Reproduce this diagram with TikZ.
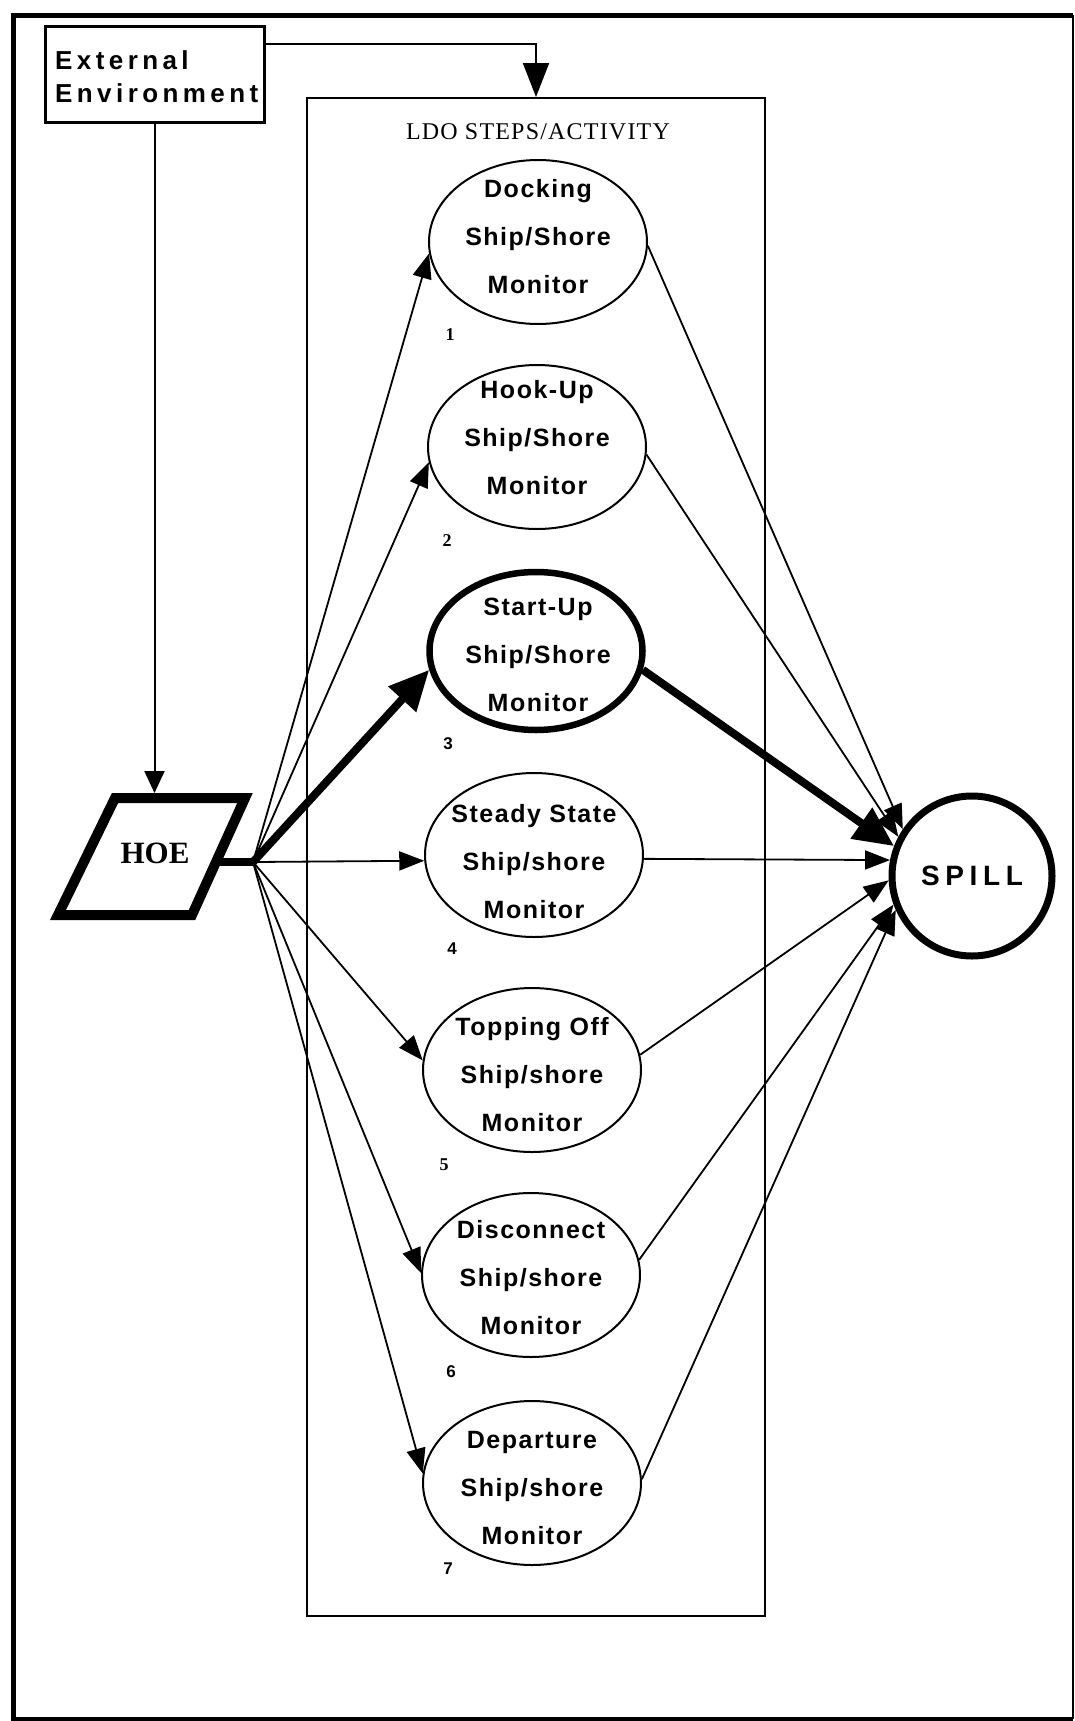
\documentclass[tikz,border=0pt]{standalone}
\usepackage{fontspec}
\setmainfont{Liberation Serif}
\newfontfamily\ellfont[LetterSpace=6]{Liberation Sans}
\newfontfamily\extfont[LetterSpace=17]{Liberation Sans}
\newfontfamily\spillfont[LetterSpace=20]{Liberation Sans}
\newfontfamily\ldofont[LetterSpace=5]{Liberation Serif}
\newfontfamily\numsans{Liberation Sans}
\usetikzlibrary{arrows.meta,shapes.geometric,calc}
\begin{document}
\begin{tikzpicture}[x=1pt,y=-1pt,
  stepell/.style={draw, ellipse, line width=2pt, minimum width=218pt, minimum height=164pt, inner sep=0pt},
  steptext/.style={align=center, font=\ellfont\bfseries\fontsize{25}{48}\selectfont, inner sep=0pt},
  numlbl/.style={font=\numsans\bfseries\fontsize{17}{17}\selectfont, inner sep=0pt},
  numser/.style={font=\bfseries\fontsize{18}{18}\selectfont, inner sep=0pt},
  thinarr/.style={line width=1.8pt, -{Triangle[length=25pt,width=19pt]}},
  thickarr/.style={line width=8pt, -{Triangle[length=40pt,width=36pt]}},
]
\useasboundingbox (0,0) rectangle (1075,1721);
\fill[white] (0,0) rectangle (1075,1721);

% outer frame
\draw[line width=5pt] (1073,15) -- (13,15) -- (13,1718.5);
\draw[line width=4pt] (11,1718.5) -- (1073,1718.5);
\draw[line width=2pt] (1073,15) -- (1073,1718.5);

% external environment
\node[draw, line width=3pt, minimum width=219pt, minimum height=96pt, inner sep=0pt] (ext) at (154.5,74) {};
\node[anchor=west, align=left, inner sep=0pt, font=\extfont\bfseries\fontsize{26}{33}\selectfont] (exttext) at (55,77) {External\\Environment};

% LDO box
\node[draw, line width=2pt, minimum width=458pt, minimum height=1518pt, inner sep=0pt] (ldo) at (536,857) {};
\node[inner sep=0pt, font=\ldofont\fontsize{24}{24}\selectfont] (ldotitle) at (538,132) {LDO STEPS/ACTIVITY};

\draw[line width=2pt, -{Triangle[length=34pt,width=26pt]}] ([yshift=-19pt]ext.north east) -| (ldo.north);

% ellipses
\node[stepell] (e1) at (538,242) {};
\node[steptext] (t1) at (538,237) {Docking\\Ship/Shore\\Monitor};
\node[stepell] (e2) at (537,447) {};
\node[steptext] (t2) at (537,438) {Hook-Up\\Ship/Shore\\Monitor};
\node[stepell, line width=6.5pt, minimum width=213pt, minimum height=158pt] (e3) at (536,651) {};
\node[steptext] (t3) at (538,655) {Start-Up\\Ship/Shore\\Monitor};
\node[stepell] (e4) at (534,855) {};
\node[steptext] (t4) at (534,862) {Steady State\\Ship/shore\\Monitor};
\node[stepell] (e5) at (532,1070) {};
\node[steptext] (t5) at (532,1075) {Topping Off\\Ship/shore\\Monitor};
\node[stepell] (e6) at (531,1275) {};
\node[steptext] (t6) at (531,1278) {Disconnect\\Ship/shore\\Monitor};
\node[stepell] (e7) at (532,1483) {};
\node[steptext] (t7) at (532,1488) {Departure\\Ship/shore\\Monitor};

% step numbers
\node[numser] (n1) at (450,335) {1};
\node[numser] (n2) at (447,541) {2};
\node[numlbl] (n3) at (448,744) {3};
\node[numlbl] (n4) at (452,949) {4};
\node[numser] (n5) at (444,1165) {5};
\node[numlbl] (n6) at (451,1372) {6};
\node[numlbl] (n7) at (448,1569) {7};

% HOE
\coordinate (hA) at (115,798);
\coordinate (hB) at (245,798);
\coordinate (hC) at (192,915);
\coordinate (hD) at (58,915);
\draw[line width=10pt, line join=miter] (hA) -- (hB) -- (hC) -- (hD) -- cycle;
\node[inner sep=0pt, font=\bfseries\fontsize{31}{31}\selectfont] (hoe) at (155,853) {HOE};
\coordinate (hoetop) at (154.5,793);
\draw[line width=2pt, -{Triangle[length=22pt,width=20pt]}] (ext.south) -- (hoetop);
\coordinate (hoeR) at (214,862);
\coordinate (hub) at (253,862);
\draw[line width=8pt] (hoeR) -- (hub);

% SPILL
\node[draw, circle, line width=7pt, minimum size=160pt, inner sep=0pt, font=\spillfont\bfseries\fontsize{28}{28}\selectfont] (spill) at (972,876) {SPILL};

% HOE to steps
\draw[thinarr] (hub) -- (e1.186);
\draw[thinarr] (hub) -- (e2.188);
\draw[thickarr] (hub) -- (e3.190);
\draw[thinarr] (hub) -- (e4.183);
\draw[thinarr] (hub) -- (e5.175);
\draw[thinarr] (hub) -- (e6.179);
\draw[thinarr] (hub) -- (e7.175);

% steps to SPILL
\draw[thinarr] (e1.-2) -- (spill.146);
\draw[thinarr] (e2.-4) -- (spill.152);
\draw[thickarr] (e3.-10) -- (spill.159);
\draw[thinarr] (e4.-2) -- (spill.169);
\draw[thinarr] (e5.8) -- (spill.183);
\draw[thinarr] (e6.8) -- (spill.200);
\draw[thinarr] (e7.2) -- (spill.204);
\end{tikzpicture}
\end{document}
